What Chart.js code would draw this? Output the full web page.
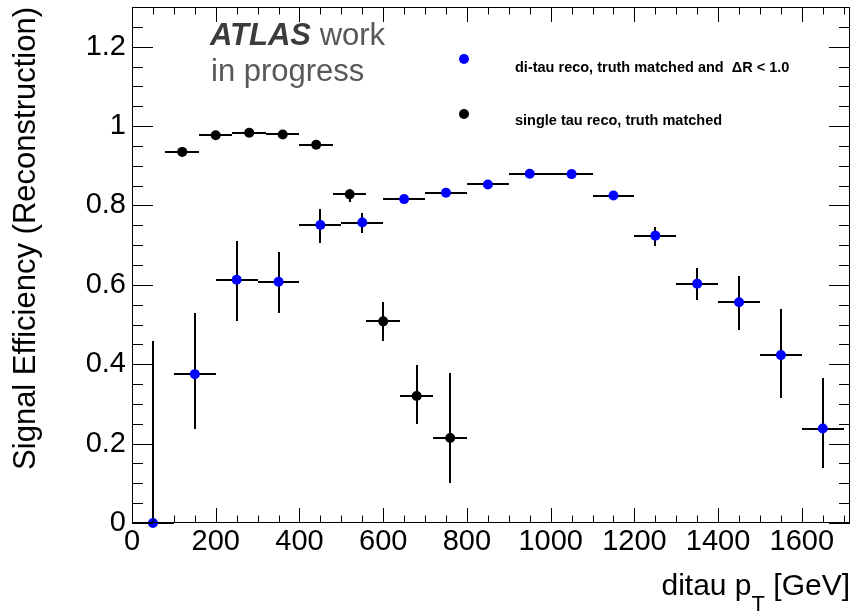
<!DOCTYPE html>
<html>
<head>
<meta charset="utf-8">
<title>Signal Efficiency (Reconstruction)</title>
<script src="https://cdn.jsdelivr.net/npm/chart.js@4.4.1/dist/chart.umd.min.js"></script>
<style>
  html, body { margin: 0; padding: 0; background: #ffffff; }
  #wrap { width: 868px; height: 614px; }
</style>
</head>
<body>
<div id="wrap"><canvas id="eff" width="868" height="614"></canvas></div>
<script>
// di-tau reconstruction, truth matched and dR < 1.0 (100 GeV bins)
const ditauLabel = 'di-tau reco, truth matched and  \u0394R < 1.0';
const ditauPt = [50, 150, 250, 350, 450, 550, 650, 750, 850, 950, 1050, 1150, 1250, 1350, 1450, 1550, 1650];
const ditauBinHalfWidth = 50;
const ditauEff = [0.000, 0.375, 0.613, 0.608, 0.751, 0.757, 0.816, 0.832, 0.853, 0.880, 0.879, 0.825, 0.724, 0.603, 0.556, 0.423, 0.238];
const ditauErrUp = [0.458, 0.155, 0.097, 0.075, 0.041, 0.025, 0.006, 0.005, 0.005, 0.004, 0.004, 0.006, 0.022, 0.040, 0.067, 0.115, 0.127];
const ditauErrDown = [0.000, 0.137, 0.105, 0.079, 0.045, 0.027, 0.006, 0.005, 0.005, 0.004, 0.004, 0.006, 0.026, 0.042, 0.071, 0.109, 0.099];

// single tau reconstruction, truth matched (80 GeV bins)
const singleLabel = 'single tau reco, truth matched';
const singlePt = [120, 200, 280, 360, 440, 520, 600, 680, 760];
const singleBinHalfWidth = 40;
const singleEff = [0.935, 0.977, 0.983, 0.979, 0.953, 0.828, 0.508, 0.320, 0.214];
const singleErrUp = [0.005, 0.004, 0.004, 0.004, 0.006, 0.014, 0.049, 0.077, 0.165];
const singleErrDown = [0.005, 0.004, 0.004, 0.004, 0.006, 0.019, 0.050, 0.071, 0.113];

// axis ranges and labelled ticks
const xRange = [0, 1715];
const yRange = [0, 1.3];
const xTickLabels = [0, 200, 400, 600, 800, 1000, 1200, 1400, 1600];
const yTickLabels = [0, 0.2, 0.4, 0.6, 0.8, 1.0, 1.2];
const xMinorStep = 50;
const yMinorStep = 0.05;

const FONT = "'Liberation Sans', Arial, Helvetica, sans-serif";
const BLUE = '#0000ff';
const BLACK = '#000000';

const series = [
  { label: ditauLabel, color: BLUE, pt: ditauPt, half: ditauBinHalfWidth, eff: ditauEff, up: ditauErrUp, down: ditauErrDown },
  { label: singleLabel, color: BLACK, pt: singlePt, half: singleBinHalfWidth, eff: singleEff, up: singleErrUp, down: singleErrDown }
];

// error bars, inside ticks on all four sides, labels and legend
const histStyle = {
  id: 'histStyle',
  beforeDatasetsDraw(chart) {
    const { ctx, scales: { x, y } } = chart;
    ctx.save();
    ctx.strokeStyle = '#000';
    ctx.lineWidth = 2;
    ctx.lineCap = 'butt';
    series.forEach(s => {
      s.pt.forEach((c, i) => {
        const px = Math.round(x.getPixelForValue(c));
        const py = Math.round(y.getPixelForValue(s.eff[i]));
        ctx.beginPath();
        ctx.moveTo(Math.round(x.getPixelForValue(c - s.half)), py);
        ctx.lineTo(Math.round(x.getPixelForValue(c + s.half)), py);
        ctx.moveTo(px, Math.round(y.getPixelForValue(s.eff[i] - s.down[i])));
        ctx.lineTo(px, Math.round(y.getPixelForValue(s.eff[i] + s.up[i])));
        ctx.stroke();
      });
    });
    ctx.restore();
  },
  afterDraw(chart) {
    const { ctx, scales: { x, y }, chartArea: a } = chart;
    ctx.save();

    // frame
    ctx.strokeStyle = '#000';
    ctx.lineWidth = 1;
    ctx.strokeRect(Math.round(a.left) + 0.5, Math.round(a.top) + 0.5,
                   Math.round(a.right - a.left) - 1, Math.round(a.bottom - a.top) - 1);

    // x ticks (bottom and top)
    ctx.beginPath();
    for (let v = xRange[0]; v <= xRange[1] + 1e-9; v += xMinorStep) {
      const px = Math.round(x.getPixelForValue(v)) + 0.5;
      const len = (Math.round(v) % 200 === 0) ? 15 : 7.5;
      ctx.moveTo(px, a.bottom); ctx.lineTo(px, a.bottom - len);
      ctx.moveTo(px, a.top); ctx.lineTo(px, a.top + len);
    }
    // y ticks (left and right)
    const nY = Math.round((yRange[1] - yRange[0]) / yMinorStep);
    for (let k = 0; k <= nY; k++) {
      const v = yRange[0] + k * yMinorStep;
      const py = Math.round(y.getPixelForValue(v)) + 0.5;
      const len = (k % 4 === 0) ? 21 : 11;
      ctx.moveTo(a.left, py); ctx.lineTo(a.left + len, py);
      ctx.moveTo(a.right, py); ctx.lineTo(a.right - len, py);
    }
    ctx.stroke();

    // experiment label
    ctx.textBaseline = 'alphabetic';
    ctx.textAlign = 'left';
    ctx.font = 'italic bold 31px ' + FONT;
    ctx.fillStyle = '#3c3c3c';
    ctx.fillText('ATLAS', 210, 45);
    const wA = ctx.measureText('ATLAS').width;
    ctx.font = '31px ' + FONT;
    ctx.fillStyle = '#585858';
    ctx.fillText(' work', 210 + wA, 45);
    ctx.fillText('in progress', 211, 81);

    // legend
    const legendRows = [{ dotY: 59, textY: 71.5 }, { dotY: 114, textY: 125 }];
    chart.data.datasets.forEach((ds, i) => {
      const row = legendRows[i];
      ctx.fillStyle = ds.backgroundColor;
      ctx.beginPath();
      ctx.arc(464, row.dotY, 5, 0, Math.PI * 2);
      ctx.fill();
      ctx.fillStyle = '#000';
      ctx.font = 'bold 14.5px ' + FONT;
      ctx.fillText(ds.label, 515, row.textY);
    });

    // x axis title with subscript
    ctx.fillStyle = '#000';
    ctx.font = '30px ' + FONT;
    const t1 = 'ditau p', t3 = ' [GeV]';
    const w1 = ctx.measureText(t1).width;
    const w3 = ctx.measureText(t3).width;
    ctx.font = '22px ' + FONT;
    const wT = ctx.measureText('T').width;
    const x0 = a.right - (w1 + wT + w3);
    ctx.font = '30px ' + FONT;
    ctx.fillText(t1, x0, 595);
    ctx.fillText(t3, x0 + w1 + wT, 595);
    ctx.font = '22px ' + FONT;
    ctx.fillText('T', x0 + w1, 611);

    ctx.restore();
  }
};

const fmt = v => String(Math.round(v * 100) / 100);

new Chart(document.getElementById('eff'), {
  type: 'scatter',
  data: {
    datasets: series.map(s => ({
      label: s.label,
      data: s.pt.map((c, i) => ({ x: c, y: s.eff[i] })),
      backgroundColor: s.color,
      borderColor: s.color,
      pointRadius: 5,
      pointHoverRadius: 5,
      pointBorderWidth: 0,
      showLine: false
    }))
  },
  options: {
    responsive: false,
    animation: false,
    devicePixelRatio: 1,
    clip: false,
    layout: { padding: { left: 0, top: 7, right: 18, bottom: 0 } },
    plugins: { legend: { display: false }, tooltip: { enabled: false } },
    scales: {
      x: {
        type: 'linear',
        min: xRange[0], max: xRange[1],
        afterBuildTicks: s => { s.ticks = xTickLabels.map(v => ({ value: v })); },
        afterFit: s => { s.height = 91; s.paddingLeft = 0; s.paddingRight = 0; },
        grid: { display: false, drawTicks: false },
        border: { display: false },
        ticks: {
          autoSkip: false, maxRotation: 0, padding: 2,
          color: '#000', font: { family: FONT, size: 29 },
          callback: v => fmt(v)
        }
      },
      y: {
        type: 'linear',
        min: yRange[0], max: yRange[1],
        afterBuildTicks: s => { s.ticks = yTickLabels.map(v => ({ value: v })); },
        afterFit: s => { s.width = 132; s.paddingTop = 0; s.paddingBottom = 0; },
        grid: { display: false, drawTicks: false },
        border: { display: false },
        ticks: {
          autoSkip: false, padding: 6,
          color: '#000', font: { family: FONT, size: 29 },
          callback: v => fmt(v)
        },
        title: {
          display: true,
          text: 'Signal Efficiency (Reconstruction)',
          align: 'end',
          color: '#000',
          font: { family: FONT, size: 31 },
          padding: { top: 8, bottom: 0 }
        }
      }
    }
  },
  plugins: [histStyle]
});
</script>
</body>
</html>
